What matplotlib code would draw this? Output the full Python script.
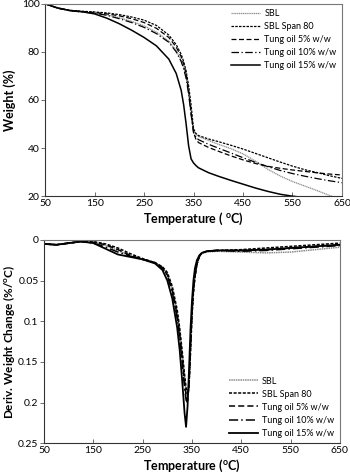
import numpy as np
import matplotlib
matplotlib.use("Agg")
from matplotlib import pyplot as plt

plt.rcParams["font.family"] = ["Lato", "DejaVu Sans"]
plt.rcParams["mathtext.fontset"] = "custom"
plt.rcParams["mathtext.rm"] = "Lato"
plt.rcParams["mathtext.bf"] = "Lato:bold"

labels = ["SBL", "SBL Span 80", "Tung oil 5% w/w", "Tung oil 10% w/w", "Tung oil 15% w/w"]

# --- TGA weight curves ---
temp_tga = [50, 75, 100, 125, 150, 175, 200, 225, 250, 275, 300, 315, 325, 330, 335, 340,
            345, 350, 355, 360, 380, 400, 425, 450, 475, 500, 525, 550, 575, 600, 625, 650]
w_sbl = [100, 98.2, 97.1, 96.6, 96.2, 95.4, 94.2, 92.7, 90.8, 88.2, 84.5, 80.5, 76.5, 73.5, 69.5, 63,
         54, 47.5, 45.8, 44.8, 43.2, 41.6, 39.8, 37.6, 34.6, 31.2, 28.4, 26.1, 24.2, 22.3, 20.3, 18.5]
w_span = [100, 98.3, 97.3, 96.9, 96.6, 96.2, 95.5, 94.5, 93.2, 91, 87, 83, 79, 76, 72, 66,
          58, 48, 46, 45.2, 43.8, 42.7, 41.2, 39.6, 37.8, 36, 34.2, 32.5, 31, 29.8, 28.5, 27.4]
w_t5 = [100, 98.2, 97.2, 96.8, 96.4, 95.8, 95, 93.8, 92.2, 89.8, 86, 82, 78, 75, 71, 64,
        55, 46.5, 43.5, 42.3, 40.3, 38.7, 36.8, 35.1, 33.6, 32.4, 31.6, 30.9, 30.3, 29.7, 29.2, 28.8]
w_t10 = [100, 98.2, 97.1, 96.6, 96.1, 95.2, 93.8, 92.2, 90.2, 87.6, 84, 80, 76, 73, 69, 62.5,
         54, 46.5, 44.5, 43.5, 41.6, 40, 38, 36, 34.1, 32.3, 30.7, 29.4, 28.3, 27.3, 26.4, 25.6]
w_t15 = [100, 98.3, 97.2, 96.7, 95.8, 94, 91.7, 89, 86, 82.5, 77, 71, 64, 58, 50, 41,
         35.5, 33.8, 32.7, 31.8, 29.8, 28.3, 26.6, 25, 23.4, 22, 20.8, 20.0, 19.4, 18.9, 18.5, 18.2]

# --- DTG curves (%/oC) ---
temp_dtg = [50, 75, 100, 125, 150, 175, 200, 225, 250, 275, 290, 300, 310, 320, 325, 330, 335,
            338, 341, 344, 347, 350, 353, 356, 360, 365, 370, 380, 400, 450, 500, 550, 600, 650]
d_sbl = [0.005, 0.006, 0.004, 0.002, 0.003, 0.007, 0.013, 0.02, 0.024, 0.028, 0.034, 0.042, 0.06, 0.09,
         0.112, 0.14, 0.17, 0.188, 0.195, 0.175, 0.13, 0.09, 0.062, 0.045, 0.03, 0.021, 0.017, 0.015,
         0.014, 0.015, 0.016, 0.015, 0.012, 0.009]
d_span = [0.005, 0.006, 0.004, 0.002, 0.002, 0.005, 0.01, 0.017, 0.023, 0.028, 0.033, 0.04, 0.057, 0.086,
          0.108, 0.136, 0.166, 0.182, 0.19, 0.18, 0.14, 0.095, 0.065, 0.046, 0.03, 0.02, 0.016, 0.014,
          0.013, 0.012, 0.01, 0.008, 0.006, 0.004]
d_t5 = [0.005, 0.006, 0.004, 0.002, 0.003, 0.006, 0.012, 0.019, 0.024, 0.028, 0.034, 0.043, 0.062, 0.093,
        0.116, 0.145, 0.176, 0.192, 0.198, 0.178, 0.132, 0.09, 0.062, 0.045, 0.03, 0.02, 0.016, 0.014,
        0.013, 0.013, 0.012, 0.01, 0.008, 0.006]
d_t10 = [0.005, 0.006, 0.004, 0.002, 0.004, 0.009, 0.015, 0.02, 0.024, 0.028, 0.035, 0.044, 0.064, 0.096,
         0.12, 0.15, 0.182, 0.197, 0.2, 0.176, 0.13, 0.088, 0.06, 0.044, 0.03, 0.02, 0.016, 0.014,
         0.013, 0.014, 0.013, 0.011, 0.009, 0.007]
d_t15 = [0.005, 0.006, 0.004, 0.002, 0.004, 0.011, 0.018, 0.021, 0.024, 0.029, 0.037, 0.05, 0.072, 0.108,
         0.135, 0.172, 0.213, 0.23, 0.205, 0.16, 0.11, 0.075, 0.05, 0.035, 0.025, 0.019, 0.016, 0.014,
         0.013, 0.013, 0.012, 0.01, 0.008, 0.006]

styles = [
    dict(color="#8c8c8c", linestyle=(0, (1, 0.5)), linewidth=0.9),
    dict(color="black", linestyle=(0, (2, 1)), linewidth=0.9),
    dict(color="black", linestyle=(0, (4, 2)), linewidth=0.9),
    dict(color="black", linestyle=(0, (6, 2, 1, 2)), linewidth=0.9),
    dict(color="black", linestyle="-", linewidth=1.1),
]

xticks = [50, 150, 250, 350, 450, 550, 650]
xlabel = r"Temperature ( $^{\mathbf{o}}$C)"
xlabel2 = r"Temperature ($^{\mathbf{o}}$C)"


def style_axes(ax):
    for side in ["left", "bottom"]:
        ax.spines[side].set_color("#333333")
        ax.spines[side].set_linewidth(0.8)
    for side in ["top", "right"]:
        ax.spines[side].set_color("#777777")
        ax.spines[side].set_linewidth(0.8)
    ax.tick_params(axis="x", direction="in", length=3, width=0.6, colors="#555555",
                   labelcolor="black", labelsize=7.5, pad=2)
    ax.tick_params(axis="y", direction="out", length=3, width=0.6, colors="#555555",
                   labelcolor="black", labelsize=7.5, pad=1)


fig = plt.figure(figsize=(3.5, 4.75), dpi=100)

# --- top: TGA ---
ax1 = fig.add_axes([0.129, 0.587, 0.848, 0.405])
for w, st, lab in zip([w_sbl, w_span, w_t5, w_t10, w_t15], styles, labels):
    ax1.plot(temp_tga, w, label=lab, **st)
ax1.set_xlim(50, 650)
ax1.set_ylim(20, 100)
ax1.set_xticks(xticks)
ax1.set_yticks([20, 40, 60, 80, 100])
ax1.set_xlabel(xlabel, fontsize=9, fontweight="bold", labelpad=2)
ax1.set_ylabel("Weight (%)", fontsize=9, fontweight="bold", labelpad=4)
style_axes(ax1)
ax1.legend(loc="upper right", frameon=False, fontsize=6.5, handlelength=3.2,
           handletextpad=0.5, labelspacing=0.45, borderaxespad=0.2)

# --- bottom: DTG ---
ax2 = fig.add_axes([0.126, 0.067, 0.845, 0.428])
for d, st, lab in zip([d_sbl, d_span, d_t5, d_t10, d_t15], styles, labels):
    st2 = dict(st)
    st2["linewidth"] = st["linewidth"] + 0.2
    ax2.plot(temp_dtg, d, label=lab, **st2)
ax2.set_xlim(50, 650)
ax2.set_ylim(0.25, 0)
ax2.set_xticks(xticks)
ax2.set_yticks([0, 0.05, 0.1, 0.15, 0.2, 0.25])
ax2.set_yticklabels(["0", "0.05", "0.1", "0.15", "0.2", "0.25"])
ax2.set_xlabel(xlabel2, fontsize=9, fontweight="bold", labelpad=2)
ax2.set_ylabel("Deriv. Weight Change (%/$^{\\mathbf{o}}$C)", fontsize=8.5, fontweight="bold", labelpad=1)
style_axes(ax2)
ax2.legend(loc="lower right", frameon=False, fontsize=6.5, handlelength=3.2,
           handletextpad=0.5, labelspacing=0.45, borderaxespad=0.2)

fig.savefig("out.png", dpi=100)
